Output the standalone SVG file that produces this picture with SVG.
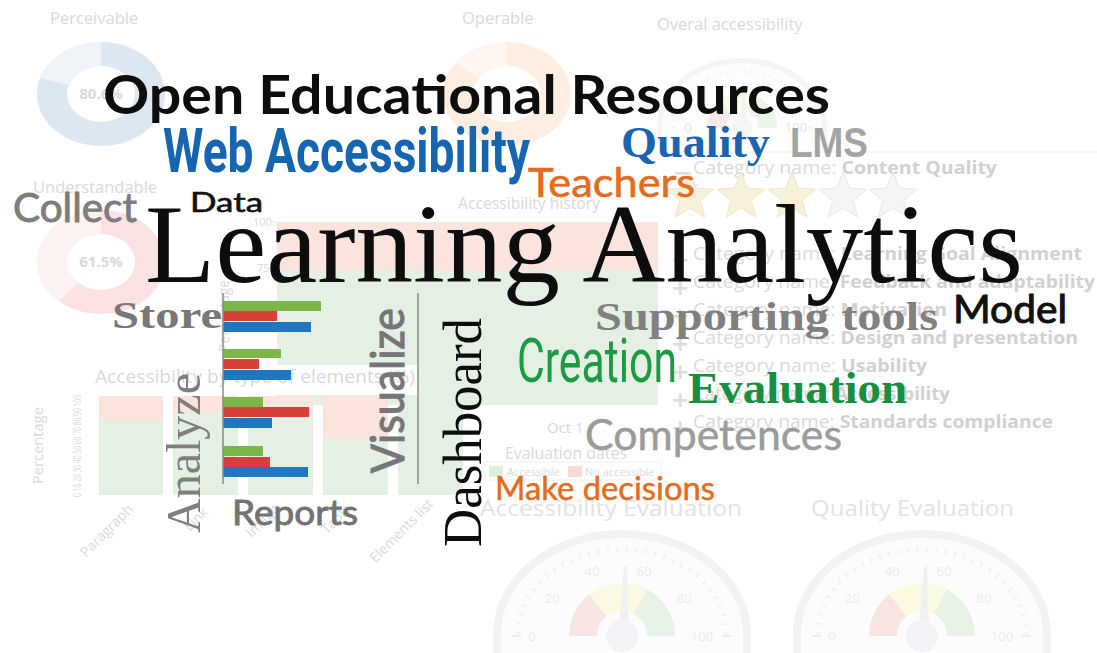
<svg xmlns="http://www.w3.org/2000/svg" width="1097" height="653" viewBox="0 0 1097 653">
<style>
.bg{font-family:"Open Sans","Liberation Sans",sans-serif;fill:#d9d9d9}
.cat{font-family:"Open Sans","Liberation Sans",sans-serif;font-size:18px;fill:#dadada}
.v{font-weight:700;fill:#d1d1d1}
.pm{font-family:"DejaVu Sans",sans-serif;font-size:22px;font-weight:700;fill:#dcdcdc}
.gn{font-family:"Open Sans","Liberation Sans",sans-serif;font-size:13px;fill:#e4e4e4;text-anchor:middle}
.serif{font-family:"Liberation Serif","Times New Roman",serif}
.geo{font-family:Lato,"Liberation Sans",sans-serif}
.cond{font-family:Roboto,"Liberation Sans",sans-serif}
</style>
<defs>
<polygon id="star" points="0,-25 6.47,-8.9 23.78,-7.73 10.46,3.4 14.69,20.23 0,11 -14.69,20.23 -10.46,3.4 -23.78,-7.73 -6.47,-8.9"/>
<g id="gauge">
<path d="M-125 20 V-2 A125 100 0 0 1 125 -2 V20" fill="#fcfcfc" stroke="#eeeeee" stroke-width="8"/>
<path d="M-104 -2 A104 84 0 0 1 104 -2" fill="none" stroke="#e8e8e8" stroke-width="5" stroke-dasharray="1.5 8"/>
<path d="M-53 0 A53 53 0 0 1 -32.6 -41.8 L-15.4 -19.7 A25 25 0 0 0 -25 0 Z" fill="#f7dcdc"/>
<path d="M-32.6 -41.8 A53 53 0 0 1 24.9 -46.8 L11.7 -22.1 A25 25 0 0 0 -15.4 -19.7 Z" fill="#fbf8da"/>
<path d="M24.9 -46.8 A53 53 0 0 1 53 0 L25 0 A25 25 0 0 0 11.7 -22.1 Z" fill="#ddeedd"/>
<polygon points="-4,0 2,-70 5,-70 7,0" fill="#ececec"/>
<circle r="16" fill="#edf0f3"/>
<line x1="-110" y1="0" x2="-101" y2="0" stroke="#e6e6e6" stroke-width="2"/>
<line x1="100" y1="0" x2="109" y2="0" stroke="#e6e6e6" stroke-width="2"/>
</g>
</defs>
<rect width="1097" height="653" fill="#ffffff"/>

<g id="dashboard-background">
<g id="donut-perceivable">
<text class="bg" x="50" y="24" font-size="16.5">Perceivable</text>
<path d="M37 94 A64 52 0 1 1 165 94 A64 52 0 1 1 37 94 Z M67 94 A34 28 0 1 0 135 94 A34 28 0 1 0 67 94 Z" fill="#dde7f2" fill-rule="evenodd"/>
<path d="M40.1 77.9 A64 52 0 0 1 101 42 L101 66 A34 28 0 0 0 68.7 85.3 Z" fill="#f0f4f9"/>
<text class="bg" x="101" y="99" font-size="15" font-weight="700" text-anchor="middle" fill="#d3d3d3">80.6%</text>
</g>
<g id="donut-operable">
<text class="bg" x="462" y="24" font-size="16.5">Operable</text>
<path d="M443 94 A64 52 0 1 1 571 94 A64 52 0 1 1 443 94 Z M473 94 A34 28 0 1 0 541 94 A34 28 0 1 0 473 94 Z" fill="#fdeee1" fill-rule="evenodd"/>
<path d="M455.2 63.4 A64 52 0 0 1 507 42 L507 66 A34 28 0 0 0 479.5 77.5 Z" fill="#fef6ef"/>
</g>
<g id="donut-understandable">
<text class="bg" x="33" y="193" font-size="16.5">Understandable</text>
<path d="M37 262 A64 52 0 1 1 165 262 A64 52 0 1 1 37 262 Z M67 262 A34 28 0 1 0 135 262 A34 28 0 1 0 67 262 Z" fill="#fae2e2" fill-rule="evenodd"/>
<path d="M58.7 301 A64 52 0 0 1 101 210 L101 234 A34 28 0 0 0 78.5 283 Z" fill="#fdf2f2"/>
<text class="bg" x="101" y="267" font-size="15" font-weight="700" text-anchor="middle" fill="#d3d3d3">61.5%</text>
</g>

<g id="gauge-overall">
<text class="bg" x="657" y="30" font-size="16.5">Overal accessibility</text>
<use href="#gauge" transform="translate(742 128) scale(0.66)" opacity="0.6"/>
<text class="gn" x="688" y="132" font-size="10">0</text>
<text class="gn" x="796" y="132" font-size="10">100</text>
</g>
<line x1="672" y1="152" x2="1097" y2="152" stroke="#f3f3f3" stroke-width="1.5"/>

<g id="chart-history">
<text class="bg" x="458" y="209" font-size="16.5" textLength="142" lengthAdjust="spacingAndGlyphs">Accessibility history</text>
<rect x="277" y="222" width="381" height="48" fill="#fbe3de"/>
<rect x="277" y="270" width="381" height="135" fill="#e3f0e3"/>
<text class="bg" x="253" y="226" font-size="11" fill="#e0e0e0">100</text>
<line x1="270" y1="222" x2="277" y2="222" stroke="#e6e6e6"/>
<text class="bg" x="257" y="272" font-size="11" fill="#e0e0e0">75</text>
<line x1="270" y1="269" x2="277" y2="269" stroke="#e6e6e6"/>
<text class="bg" font-size="14" fill="#e3e3e3" transform="translate(229 352) rotate(-90)" textLength="72" lengthAdjust="spacingAndGlyphs">Percentage</text>
<text class="bg" x="547" y="433" font-size="15" fill="#dadada">Oct 1</text>
<text class="bg" x="505" y="459" font-size="16" fill="#dadada" textLength="122" lengthAdjust="spacingAndGlyphs">Evaluation dates</text>
<rect x="485" y="462" width="176" height="18" fill="none" stroke="#f0f0f0"/>
<rect x="489" y="466" width="14" height="11" fill="#dcefdc"/>
<text class="bg" x="507" y="476" font-size="11" fill="#e2e2e2">Accessible</text>
<rect x="568" y="466" width="14" height="11" fill="#f9dcd6"/>
<text class="bg" x="585" y="476" font-size="11" fill="#e2e2e2">No accessible</text>
</g>

<g id="chart-elements">
<rect x="85" y="365" width="333" height="30" fill="#ffffff"/>
<text class="bg" x="95" y="383" font-size="18" textLength="320" lengthAdjust="spacingAndGlyphs">Accessibility by type of elements (%)</text>
<rect x="99" y="396" width="64" height="24" fill="#fbe3de"/>
<rect x="99" y="420" width="64" height="75" fill="#e3f0e3"/>
<rect x="173" y="396" width="65" height="16" fill="#fbe3de"/>
<rect x="173" y="412" width="65" height="83" fill="#e3f0e3"/>
<rect x="248" y="396" width="65" height="9" fill="#fbe3de"/>
<rect x="248" y="405" width="65" height="90" fill="#e3f0e3"/>
<rect x="323" y="396" width="65" height="42" fill="#fbe3de"/>
<rect x="323" y="438" width="65" height="57" fill="#e3f0e3"/>
<rect x="398" y="396" width="65" height="99" fill="#e3f0e3"/>
<text class="bg" font-size="11" fill="#e3e3e3" transform="translate(81 497) rotate(-90)" textLength="102" lengthAdjust="spacingAndGlyphs">0 10 20 30 40 50 60 70 80 90 100</text>
<text class="bg" font-size="15" fill="#e6e6e6" transform="translate(43 484) rotate(-90)" textLength="77" lengthAdjust="spacingAndGlyphs">Percentage</text>
<text class="bg" font-size="14" fill="#ececec" text-anchor="end" transform="translate(134 510) rotate(-45)">Paragraph</text>
<text class="bg" font-size="14" fill="#ececec" text-anchor="end" transform="translate(209 513) rotate(-45)">Link</text>
<text class="bg" font-size="14" fill="#ececec" text-anchor="end" transform="translate(280 510) rotate(-45)">Image</text>
<text class="bg" font-size="14" fill="#ececec" text-anchor="end" transform="translate(352 510) rotate(-45)">Table</text>
<text class="bg" font-size="14" fill="#ececec" text-anchor="end" transform="translate(434 505) rotate(-45)">Elements list</text>
</g>

<g id="category-panel">
<text class="pm" x="673" y="180">−</text>
<text class="cat" x="693" y="174" textLength="304" lengthAdjust="spacingAndGlyphs">Category name: <tspan class="v">Content Quality</tspan></text>
<use href="#star" x="690" y="197" fill="#f9f0da" stroke="#f0e5c8"/>
<use href="#star" x="741" y="197" fill="#f9f0da" stroke="#f0e5c8"/>
<use href="#star" x="792" y="197" fill="#f9f0da" stroke="#f0e5c8"/>
<use href="#star" x="843" y="197" fill="#f5f5f5" stroke="#e8e8e8"/>
<use href="#star" x="893" y="197" fill="#f5f5f5" stroke="#e8e8e8"/>
<text class="pm" x="671" y="267">+</text>
<text class="cat" x="693" y="260" textLength="389" lengthAdjust="spacingAndGlyphs">Category name: <tspan class="v">Learning Goal Alignment</tspan></text>
<text class="pm" x="671" y="295">+</text>
<text class="cat" x="693" y="288" textLength="402" lengthAdjust="spacingAndGlyphs">Category name: <tspan class="v">Feedback and adaptability</tspan></text>
<text class="pm" x="671" y="323">+</text>
<text class="cat" x="693" y="316" textLength="254" lengthAdjust="spacingAndGlyphs">Category name: <tspan class="v">Motivation</tspan></text>
<text class="pm" x="671" y="351">+</text>
<text class="cat" x="693" y="344" textLength="385" lengthAdjust="spacingAndGlyphs">Category name: <tspan class="v">Design and presentation</tspan></text>
<text class="pm" x="671" y="379">+</text>
<text class="cat" x="693" y="372" textLength="234" lengthAdjust="spacingAndGlyphs">Category name: <tspan class="v">Usability</tspan></text>
<text class="pm" x="671" y="407">+</text>
<text class="cat" x="693" y="400" textLength="257" lengthAdjust="spacingAndGlyphs">Category name: <tspan class="v">Accessibility</tspan></text>
<text class="pm" x="671" y="435">+</text>
<text class="cat" x="693" y="428" textLength="360" lengthAdjust="spacingAndGlyphs">Category name: <tspan class="v">Standards compliance</tspan></text>
</g>

<g id="gauge-accessibility" opacity="0.75">
<text class="bg" x="480" y="516" font-size="22" fill="#dadada" textLength="262" lengthAdjust="spacingAndGlyphs">Accessibility Evaluation</text>
<use href="#gauge" transform="translate(622 636)"/>
<text class="gn" x="532" y="641">0</text>
<text class="gn" x="552" y="603">20</text>
<text class="gn" x="592" y="576">40</text>
<text class="gn" x="644" y="576">60</text>
<text class="gn" x="684" y="603">80</text>
<text class="gn" x="702" y="641">100</text>
</g>
<g id="gauge-quality" opacity="0.75">
<text class="bg" x="811" y="516" font-size="22" fill="#dadada" textLength="203" lengthAdjust="spacingAndGlyphs">Quality Evaluation</text>
<use href="#gauge" transform="translate(922 636)"/>
<text class="gn" x="832" y="641">0</text>
<text class="gn" x="852" y="603">20</text>
<text class="gn" x="892" y="576">40</text>
<text class="gn" x="944" y="576">60</text>
<text class="gn" x="984" y="603">80</text>
<text class="gn" x="1002" y="641">100</text>
</g>
</g>

<g id="bar-chart">
<rect x="223" y="301" width="98" height="10" fill="#7ab648"/>
<rect x="223" y="311" width="54" height="10" fill="#d9403a"/>
<rect x="223" y="322" width="88" height="10" fill="#2176c1"/>
<rect x="223" y="349" width="58" height="9" fill="#7ab648"/>
<rect x="223" y="359" width="36" height="10" fill="#d9403a"/>
<rect x="223" y="370" width="68" height="10" fill="#2176c1"/>
<rect x="223" y="397" width="40" height="10" fill="#7ab648"/>
<rect x="223" y="407" width="86" height="10" fill="#d9403a"/>
<rect x="223" y="418" width="49" height="10" fill="#2176c1"/>
<rect x="223" y="446" width="40" height="10" fill="#7ab648"/>
<rect x="223" y="457" width="47" height="10" fill="#d9403a"/>
<rect x="223" y="467" width="85" height="10" fill="#2176c1"/>
<line x1="223" y1="293" x2="223" y2="484" stroke="#8a8a8a" stroke-width="1.5"/>
<line x1="418" y1="293" x2="418" y2="484" stroke="#8a8a8a" stroke-width="1.5"/>
</g>

<g id="word-cloud">
<text id="w-oer" class="geo" x="103" y="114" font-size="54" font-weight="700" fill="#0d0d0d" textLength="727" lengthAdjust="spacingAndGlyphs">Open Educational Resources</text>
<text id="w-webacc" class="cond" x="163" y="172" font-size="62" font-weight="700" fill="#1565b0" textLength="367" lengthAdjust="spacingAndGlyphs">Web Accessibility</text>
<text id="w-quality" class="serif" x="621" y="157" font-size="45" font-weight="700" fill="#1a64b0" textLength="149" lengthAdjust="spacingAndGlyphs">Quality</text>
<text id="w-lms" font-family="'Liberation Sans',Arial,sans-serif" x="790" y="157" font-size="42" font-weight="700" fill="#a3a3a3" textLength="78" lengthAdjust="spacingAndGlyphs">LMS</text>
<text id="w-teachers" class="geo" x="528" y="197" font-size="41" fill="#e46c1e" stroke="#e46c1e" stroke-width="0.6" textLength="167" lengthAdjust="spacingAndGlyphs">Teachers</text>
<text id="w-collect" class="geo" x="13" y="222" font-size="40" fill="#7d7d7d" stroke="#7d7d7d" stroke-width="0.9" textLength="124" lengthAdjust="spacingAndGlyphs">Collect</text>
<text id="w-data" class="geo" x="190" y="212" font-size="27" fill="#111111" stroke="#111111" stroke-width="0.6" textLength="73" lengthAdjust="spacingAndGlyphs">Data</text>
<text id="w-la" class="serif" x="145" y="282" font-size="112" fill="#0d0d0d" textLength="878" lengthAdjust="spacingAndGlyphs">Learning Analytics</text>
<text id="w-store" class="serif" x="112" y="328" font-size="38" font-weight="700" fill="#787878" textLength="110" lengthAdjust="spacingAndGlyphs">Store</text>
<text id="w-model" class="geo" x="953" y="323" font-size="38" fill="#111111" stroke="#111111" stroke-width="1" textLength="114" lengthAdjust="spacingAndGlyphs">Model</text>
<text id="w-supporting" class="serif" x="595" y="330" font-size="41" font-weight="700" fill="#808080" textLength="343" lengthAdjust="spacingAndGlyphs">Supporting tools</text>
<text id="w-creation" class="cond" x="517" y="382" font-size="62" fill="#1e9a45" textLength="160" lengthAdjust="spacingAndGlyphs">Creation</text>
<text id="w-evaluation" class="serif" x="688" y="403" font-size="44" font-weight="700" fill="#178f41" textLength="219" lengthAdjust="spacingAndGlyphs">Evaluation</text>
<text id="w-competences" class="geo" x="585" y="450" font-size="43" fill="#9b9b9b" stroke="#9b9b9b" stroke-width="0.5" textLength="257" lengthAdjust="spacingAndGlyphs">Competences</text>
<text id="w-decisions" class="geo" x="495" y="500" font-size="32" fill="#e46c1e" stroke="#e46c1e" stroke-width="0.5" textLength="220" lengthAdjust="spacingAndGlyphs">Make decisions</text>
<text id="w-reports" class="geo" x="232" y="525" font-size="35" fill="#737373" stroke="#737373" stroke-width="0.9" textLength="126" lengthAdjust="spacingAndGlyphs">Reports</text>
<text id="w-analyze" class="serif" font-size="48" fill="#7f7f7f" transform="translate(200 533) rotate(-90)" textLength="160" lengthAdjust="spacingAndGlyphs">Analyze</text>
<text id="w-visualize" class="geo" font-size="46" fill="#767676" stroke="#767676" stroke-width="1.1" transform="translate(404 473) rotate(-90)" textLength="165" lengthAdjust="spacingAndGlyphs">Visualize</text>
<text id="w-dashboard" class="serif" font-size="54" fill="#0d0d0d" transform="translate(481 547) rotate(-90)" textLength="229" lengthAdjust="spacingAndGlyphs">Dashboard</text>
</g>
</svg>
